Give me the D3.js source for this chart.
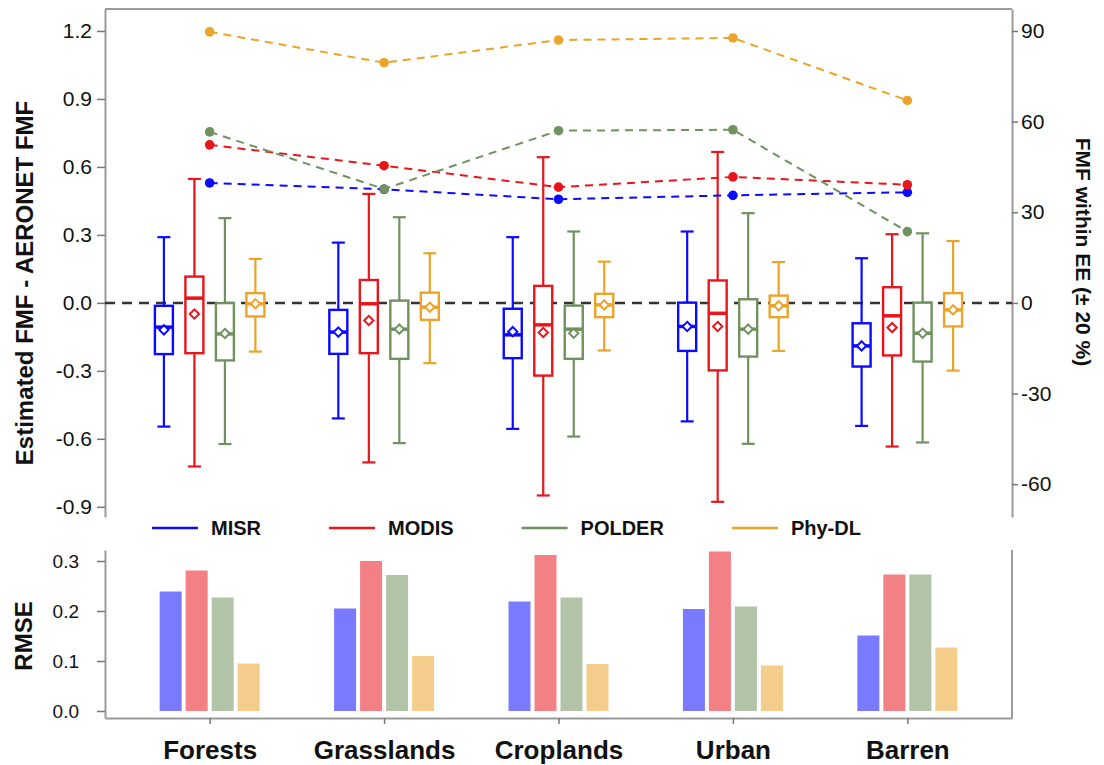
<!DOCTYPE html>
<html>
<head>
<meta charset="utf-8">
<script src="https://cdn.jsdelivr.net/npm/d3@7"></script>
<style>
  body { margin: 0; background: #fff; }
  svg text { font-family: "Liberation Sans", Arial, sans-serif; fill: #111; }
</style>
</head>
<body>
<div id="chart"></div>
<script>
var categories = ["Forests", "Grasslands", "Croplands", "Urban", "Barren"];
var products = ["MISR", "MODIS", "POLDER", "Phy-DL"];

// each row: [whisker low, Q1, median, Q3, whisker high, mean]
var misrBox = [
  [-0.546, -0.226, -0.107, -0.013, 0.290, -0.119],
  [-0.510, -0.225, -0.129, -0.031, 0.266, -0.129],
  [-0.556, -0.244, -0.141, -0.026, 0.290, -0.127],
  [-0.523, -0.212, -0.104, 0.001, 0.315, -0.104],
  [-0.543, -0.281, -0.190, -0.090, 0.197, -0.190]
];
var modisBox = [
  [-0.722, -0.222, 0.021, 0.116, 0.547, -0.049],
  [-0.704, -0.222, -0.004, 0.101, 0.481, -0.078],
  [-0.850, -0.321, -0.097, 0.075, 0.643, -0.131],
  [-0.878, -0.298, -0.046, 0.099, 0.666, -0.104],
  [-0.634, -0.232, -0.057, 0.069, 0.303, -0.109]
];
var polderBox = [
  [-0.623, -0.254, -0.137, -0.001, 0.374, -0.135],
  [-0.619, -0.247, -0.116, 0.010, 0.378, -0.116],
  [-0.590, -0.247, -0.116, -0.012, 0.315, -0.134],
  [-0.622, -0.237, -0.116, 0.016, 0.396, -0.116],
  [-0.616, -0.259, -0.134, 0.001, 0.307, -0.134]
];
var phyBox = [
  [-0.215, -0.060, -0.004, 0.043, 0.194, -0.004],
  [-0.266, -0.075, -0.019, 0.045, 0.219, -0.019],
  [-0.210, -0.063, -0.009, 0.040, 0.182, -0.009],
  [-0.212, -0.063, -0.013, 0.032, 0.180, -0.013],
  [-0.299, -0.104, -0.031, 0.043, 0.273, -0.031]
];

// FMF within EE (%)
var misrEE = [39.7, 37.6, 34.3, 35.6, 36.6];
var modisEE = [52.3, 45.4, 38.3, 41.7, 39.1];
var polderEE = [56.6, 37.7, 57.0, 57.3, 23.6];
var phyEE = [89.7, 79.5, 87.0, 87.7, 67.0];

// RMSE
var misrRmse = [0.239, 0.205, 0.219, 0.204, 0.151];
var modisRmse = [0.281, 0.300, 0.312, 0.319, 0.273];
var polderRmse = [0.227, 0.272, 0.227, 0.209, 0.273];
var phyRmse = [0.095, 0.110, 0.094, 0.091, 0.127];

var leftTicks = [-0.9, -0.6, -0.3, 0.0, 0.3, 0.6, 0.9, 1.2];
var rightTicks = [-60, -30, 0, 30, 60, 90];
var rmseTicks = [0.0, 0.1, 0.2, 0.3];

var boxes = [misrBox, modisBox, polderBox, phyBox];
var ee = [misrEE, modisEE, polderEE, phyEE];
var rmse = [misrRmse, modisRmse, polderRmse, phyRmse];

var color = d3.scaleOrdinal()
  .domain(products)
  .range(["#0a0aff", "#e8151b", "#6f925e", "#eba32a"]);

var W = 1104, H = 765;
var left = 105, right = 1012;
var axisGrey = "#9a9a9a";

var svg = d3.select("#chart").append("svg")
  .attr("width", W)
  .attr("height", H);

var x = d3.scalePoint().domain(categories).range([left, right]).padding(0.6);
var xBox = d3.scalePoint().domain(products).range([-45.75, 45.75]);
var xBar = d3.scalePoint().domain(products).range([-39, 39]);

// top panel scales (right axis is left axis * 75)
var yTop = d3.scaleLinear().domain([-0.945, 1.297]).range([517, 9]);
var yRight = d3.scaleLinear().domain([-0.945 * 75, 1.297 * 75]).range([517, 9]);
var yBot = d3.scaleLinear().domain([-0.014, 0.322]).range([718, 550]);

function styleAxis(g, size) {
  g.selectAll("path.domain").attr("stroke", axisGrey).attr("stroke-width", 2);
  g.selectAll(".tick line").attr("stroke", "#777").attr("stroke-width", 1.5);
  g.selectAll(".tick text")
    .style("font-family", "'Liberation Sans', Arial, sans-serif")
    .style("font-size", size + "px")
    .attr("fill", "#1a1a1a");
}

// ---- top panel frame & axes
svg.append("line")
  .attr("x1", left).attr("x2", right)
  .attr("y1", 9).attr("y2", 9)
  .attr("stroke", axisGrey).attr("stroke-width", 2);

svg.append("g")
  .attr("transform", "translate(" + left + ",0)")
  .call(d3.axisLeft(yTop).tickValues(leftTicks).tickSize(8).tickSizeOuter(0).tickPadding(5)
    .tickFormat(function (d) { return d.toFixed(1); }))
  .call(styleAxis, 21);

svg.append("g")
  .attr("transform", "translate(" + right + ",0)")
  .call(d3.axisRight(yRight).tickValues(rightTicks).tickSize(6).tickSizeOuter(0).tickPadding(3)
    .tickFormat(function (d) { return String(d); }))
  .call(styleAxis, 21);

// zero reference line
svg.append("line")
  .attr("x1", left).attr("x2", right)
  .attr("y1", yTop(0)).attr("y2", yTop(0))
  .attr("stroke", "#333")
  .attr("stroke-width", 2.5)
  .style("stroke-dasharray", "10,7");

// ---- box plots
var boxW = 18, capW = 13;
products.forEach(function (p, i) {
  var g = svg.append("g").attr("class", "box-" + i);
  var c = color(p);
  var items = g.selectAll("g")
    .data(boxes[i])
    .enter()
    .append("g")
    .attr("transform", function (d, j) {
      return "translate(" + (x(categories[j]) + xBox(p)) + ",0)";
    });

  items.append("line")
    .attr("x1", 0).attr("x2", 0)
    .attr("y1", function (d) { return yTop(d[0]); })
    .attr("y2", function (d) { return yTop(d[4]); })
    .attr("stroke", c).attr("stroke-width", 2.2);

  items.selectAll(".cap")
    .data(function (d) { return [d[0], d[4]]; })
    .enter()
    .append("line")
    .attr("class", "cap")
    .attr("x1", -capW / 2).attr("x2", capW / 2)
    .attr("y1", function (v) { return yTop(v); })
    .attr("y2", function (v) { return yTop(v); })
    .attr("stroke", c).attr("stroke-width", 2.2);

  items.append("rect")
    .attr("x", -boxW / 2)
    .attr("width", boxW)
    .attr("y", function (d) { return yTop(d[3]); })
    .attr("height", function (d) { return yTop(d[1]) - yTop(d[3]); })
    .attr("fill", "#fff")
    .attr("stroke", c).attr("stroke-width", 2.4);

  items.append("line")
    .attr("x1", -boxW / 2).attr("x2", boxW / 2)
    .attr("y1", function (d) { return yTop(d[2]); })
    .attr("y2", function (d) { return yTop(d[2]); })
    .attr("stroke", c).attr("stroke-width", 3.5);

  items.append("path")
    .attr("d", d3.symbol().type(d3.symbolDiamond2).size(55))
    .attr("transform", function (d) { return "translate(0," + yTop(d[5]) + ")"; })
    .attr("fill", "#fff")
    .attr("stroke", c).attr("stroke-width", 2);
});

// ---- within-EE dashed lines with dots
products.forEach(function (p, i) {
  var c = color(p);
  var line = d3.line()
    .x(function (d, j) { return x(categories[j]); })
    .y(function (d) { return yRight(d); });
  svg.append("path")
    .datum(ee[i])
    .attr("d", line)
    .attr("fill", "none")
    .attr("stroke", c)
    .attr("stroke-width", 2)
    .style("stroke-dasharray", "8,6");
  svg.append("g")
    .selectAll("circle")
    .data(ee[i])
    .enter()
    .append("circle")
    .attr("cx", function (d, j) { return x(categories[j]); })
    .attr("cy", function (d) { return yRight(d); })
    .attr("r", 4.8)
    .attr("fill", c);
});

// axis titles top panel
svg.append("text")
  .attr("text-anchor", "middle")
  .attr("transform", "translate(33," + 283 + ") rotate(-90)")
  .style("font-size", "24px")
  .style("font-weight", "bold")
  .text("Estimated FMF - AERONET FMF");

svg.append("text")
  .attr("text-anchor", "middle")
  .attr("transform", "translate(1076," + 252 + ") rotate(90)")
  .style("font-size", "21px")
  .style("font-weight", "bold")
  .text("FMF within EE (± 20 %)");

// ---- legend
var legend = svg.append("g").attr("class", "gLegend");
var lx = 152;
products.forEach(function (p) {
  legend.append("line")
    .attr("x1", lx).attr("x2", lx + 46)
    .attr("y1", 528).attr("y2", 528)
    .attr("stroke", color(p)).attr("stroke-width", 2.5);
  var t = legend.append("text")
    .attr("x", lx + 59)
    .attr("y", 535)
    .style("font-size", "20px")
    .style("font-weight", "bold")
    .text(p);
  lx = lx + 59 + t.node().getComputedTextLength() + 68;
});

// ---- bottom RMSE panel
svg.append("g")
  .attr("transform", "translate(" + left + ",0)")
  .call(d3.axisLeft(yBot).tickValues(rmseTicks).tickSize(8).tickSizeOuter(0).tickPadding(18)
    .tickFormat(function (d) { return d.toFixed(1); }))
  .call(styleAxis, 19);

svg.append("line")
  .attr("x1", right).attr("x2", right)
  .attr("y1", 550).attr("y2", 718)
  .attr("stroke", axisGrey).attr("stroke-width", 2);

var xAxis = svg.append("g")
  .attr("transform", "translate(0,718)")
  .call(d3.axisBottom(x).tickSize(6).tickSizeOuter(0).tickPadding(17))
  .call(styleAxis, 26);
xAxis.selectAll(".tick text").style("font-weight", "bold").attr("fill", "#000");

var barW = 22;
products.forEach(function (p, i) {
  svg.append("g")
    .selectAll("rect")
    .data(rmse[i])
    .enter()
    .append("rect")
    .attr("x", function (d, j) { return x(categories[j]) + xBar(p) - barW / 2; })
    .attr("y", function (d) { return yBot(d); })
    .attr("width", barW)
    .attr("height", function (d) { return yBot(0) - yBot(d); })
    .attr("fill", color(p))
    .attr("fill-opacity", 0.54);
});

svg.append("text")
  .attr("text-anchor", "middle")
  .attr("transform", "translate(32,636) rotate(-90)")
  .style("font-size", "24px")
  .style("font-weight", "bold")
  .text("RMSE");
</script>
</body>
</html>
